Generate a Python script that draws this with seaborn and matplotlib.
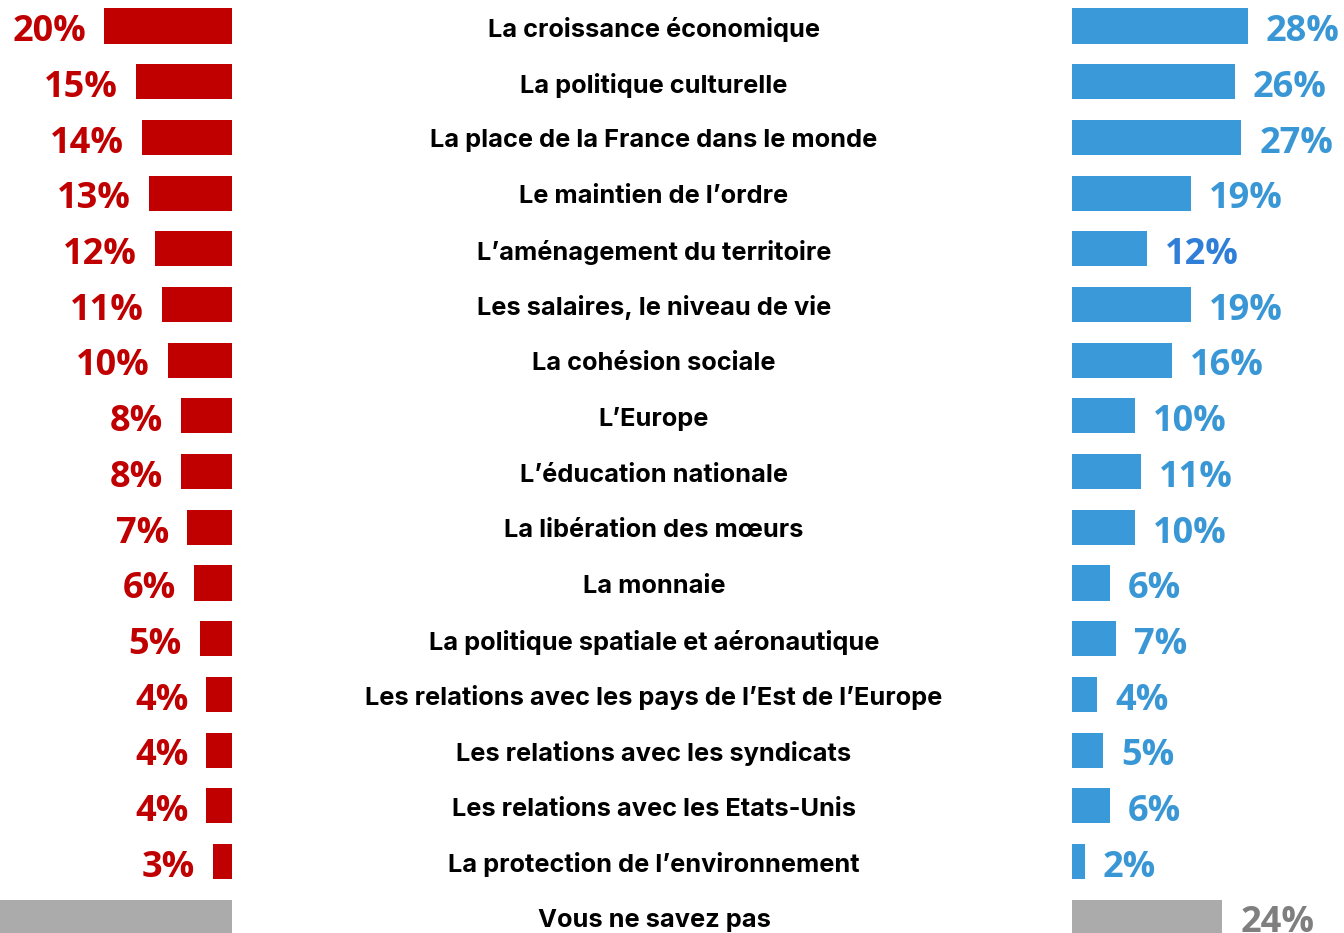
import seaborn as sns
import pandas as pd
import matplotlib.pyplot as plt
from matplotlib.transforms import blended_transform_factory, offset_copy

labels = [
    "La croissance économique",
    "La politique culturelle",
    "La place de la France dans le monde",
    "Le maintien de l\u2019ordre",
    "L\u2019aménagement du territoire",
    "Les salaires, le niveau de vie",
    "La cohésion sociale",
    "L\u2019Europe",
    "L\u2019éducation nationale",
    "La libération des mœurs",
    "La monnaie",
    "La politique spatiale et aéronautique",
    "Les relations avec les pays de l\u2019Est de l\u2019Europe",
    "Les relations avec les syndicats",
    "Les relations avec les Etats-Unis",
    "La protection de l\u2019environnement",
    "Vous ne savez pas",
]
left_values = [20, 15, 14, 13, 12, 11, 10, 8, 8, 7, 6, 5, 4, 4, 4, 3, 38]
right_values = [28, 26, 27, 19, 12, 19, 16, 10, 11, 10, 6, 7, 4, 5, 6, 2, 24]

RED = "#C00000"
BLUE = "#3A9AD9"
BLUE_TXT = "#3A97D6"
GREY = "#ABABAB"
GREY_TXT = "#7F7F7F"

df = pd.DataFrame({"label": labels, "left": left_values, "right": right_values})
n = len(df)
left_colors = [RED] * (n - 1) + [GREY]
right_colors = [BLUE] * (n - 1) + [GREY]
right_text_colors = [BLUE_TXT] * (n - 1) + [GREY_TXT]
right_text_colors[4] = "#2F7ED8"
left_text_colors = [RED] * (n - 1) + [GREY_TXT]

W, H = 1344, 933
fig = plt.figure(figsize=(W / 100, H / 100), dpi=100)
ax_l = fig.add_axes([0, 0, 232 / W, 1])
ax_r = fig.add_axes([1072 / W, 0, 272 / W, 1])

sns.barplot(data=df, y="label", x="left", hue="label", palette=left_colors,
            orient="h", width=0.63, legend=False, ax=ax_l, saturation=1)
sns.barplot(data=df, y="label", x="right", hue="label", palette=right_colors,
            orient="h", width=0.63, legend=False, ax=ax_r, saturation=1)

# row 0 centred at 26 px from top, rows every 55.7 px
row_px = 55.7
y_top = -26 / row_px
y_bot = (H - 26) / row_px
for ax in (ax_l, ax_r):
    ax.set_ylim(y_bot, y_top)
    ax.axis("off")
ax_l.set_xlim(232 / 6.4, 0)
ax_r.set_xlim(0, 272 / 6.27)

num_font = dict(family="Open Sans", fontweight="bold", fontsize=26)
for i, (lv, rv) in enumerate(zip(left_values, right_values)):
    ax_l.annotate(f"{lv}%", (lv, i), xytext=(-13, -4.5), textcoords="offset points",
                  ha="right", va="center", color=left_text_colors[i], **num_font)
    ax_r.annotate(f"{rv}%", (rv, i), xytext=(13, -4.5), textcoords="offset points",
                  ha="left", va="center", color=right_text_colors[i], **num_font)

trans = blended_transform_factory(fig.transFigure, ax_l.transData)
trans = offset_copy(trans, fig=fig, y=-2.5, units="points")
for i, lab in enumerate(labels):
    fig.text(654 / W, i, lab, transform=trans, ha="center", va="center",
             family="Inter", fontweight="bold", fontsize=18.3, color="black")

fig.savefig("out.png", dpi=100)
